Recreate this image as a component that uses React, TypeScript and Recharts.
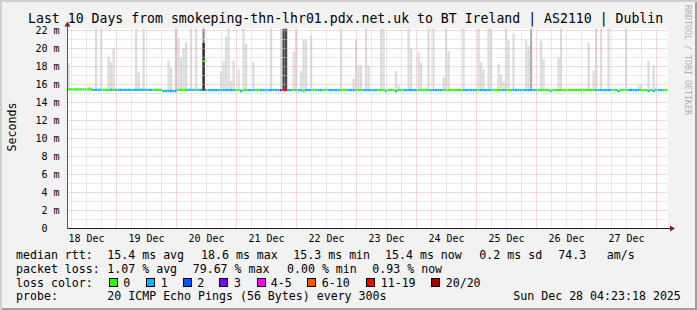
import React from 'react';
import {
  ComposedChart,
  Bar,
  Cell,
  XAxis,
  YAxis,
  ReferenceLine,
  ReferenceDot,
  CartesianGrid,
} from 'recharts';

// ---------- text ----------
const TITLE = 'Last 10 Days from smokeping-thn-lhr01.pdx.net.uk to BT Ireland | AS2110 | Dublin';
const Y_LABEL = 'Seconds';
const WATERMARK = 'RRDTOOL / TOBI OETIKER';
const dayLabels = ['18 Dec', '19 Dec', '20 Dec', '21 Dec', '22 Dec', '23 Dec', '24 Dec', '25 Dec', '26 Dec', '27 Dec'];
const yTicks = [0, 2, 4, 6, 8, 10, 12, 14, 16, 18, 20, 22];
const yMinor = [1, 3, 5, 7, 9, 11, 13, 15, 17, 19, 21];

const rttLabel = 'median rtt:';
const rttStats = ['15.4 ms avg', '18.6 ms max', '15.3 ms min', '15.4 ms now', '0.2 ms sd', '74.3', 'am/s'];
const lossLabel = 'packet loss:';
const lossStats = ['1.07 % avg', '79.67 % max', '0.00 % min', '0.93 % now'];
const colorLabel = 'loss color:';
const lossLabels = ['0', '1', '2', '3', '4-5', '6-10', '11-19', '20/20'];
const probeLabel = 'probe:';
const probeText = '20 ICMP Echo Pings (56 Bytes) every 300s';
const stamp = 'Sun Dec 28 04:23:18 2025';

// ---------- data (hours since graph start, 1 h steps) ----------
const START_HOUR_OF_DAY = 4 + 23 / 60 + 18 / 3600; // 04:23:18
const HOURS = 240;
const Y_MAX = 200 / 9; // 22.22 ms at the top of the canvas
const FULL = Y_MAX;
const SMOKE_BASE = 15.3;

// smoke spikes (hour index, top of smoke in ms)
const spikeHours = [
  0, 8, 9, 11, 13, 16, 17, 18, 27, 28, 30, 40, 41, 43, 44, 45, 46, 47, 49, 51, 54,
  61, 62, 63, 64, 65, 66, 68, 70, 71, 74, 81, 85, 90, 91, 93, 94, 95, 97, 103,
  109, 114, 115, 116, 117, 119, 120, 125, 126, 131, 132, 136, 137, 140, 141, 144, 146,
  150, 151, 152, 156, 158, 164, 165, 166, 168, 169, 172, 173, 174, 175, 176, 178,
  183, 184, 185, 189, 190, 196, 197, 208, 210, 211, 213, 216, 223, 225, 228, 229,
  232, 234, 235,
];
const spikeTops = [
  18.4, 15.8, 15.8, FULL, FULL, 19.1, 18.5, 20.0, FULL, 17.4, FULL, 18.7, 17.9, FULL, 21.2, 19.0, 20.1, 20.7, FULL, FULL, FULL,
  17.5, 18.6, 21.3, FULL, 16.4, 18.6, 17.7, FULL, 20.5, 18.5, FULL, FULL, 19.6, FULL, 17.5, 21.0, 20.9, 21.5, 15.7,
  FULL, 16.7, 20.9, 18.1, 18.1, FULL, 18.1, FULL, FULL, 17.5, 15.9, FULL, 20.0, 19.6, 18.4, FULL, FULL,
  16.8, FULL, 19.7, 15.6, FULL, FULL, 18.5, 17.7, FULL, FULL, 18.3, 17.1, 16.3, FULL, 20.9, 21.7,
  21.0, 20.3, FULL, 20.9, 18.8, 19.0, FULL, 20.6, 17.6, FULL, FULL, FULL, FULL, 15.7, 15.9, 16.0,
  18.6, 18.1, 15.7,
];
// dense (dark) smoke
const darkHours = [54, 86, 87];
const darkTops = [20.6, FULL, FULL];

// median rtt (run length: [hours, ms])
const medianRuns = [[10, 15.45], [28, 15.4], [6, 15.28], [10, 15.4], [1, 18.6], [185, 15.38]];
const medianDipHours = [69, 94, 127, 131, 193, 220, 232, 234];
const MEDIAN_DIP = 15.28;

// loss class per hour (run length: [hours, class index into lossLabels])
const lossRuns = [
  [10, 0], [4, 1], [3, 0], [1, 1], [1, 0], [15, 1],
  [4, 0], [6, 1], [4, 0], [3, 1], [1, 0], [2, 1], [1, 0],
  [12, 1], [2, 0], [1, 1], [2, 0], [3, 1], [2, 0], [8, 1],
  [1, 3], [2, 6], [2, 1], [2, 0], [2, 1], [1, 0], [3, 1], [2, 0], [2, 1], [2, 0], [5, 1], [3, 0], [3, 1], [3, 0], [3, 1],
  [3, 1], [3, 0], [1, 1], [3, 0], [1, 1], [2, 0], [6, 1], [5, 0], [5, 1], [8, 0], [6, 1], [1, 0], [5, 1], [4, 0], [2, 1], [2, 0],
  [10, 1], [5, 0], [1, 1], [17, 0], [7, 1], [2, 0], [1, 1], [3, 0], [5, 1], [3, 0], [1, 1], [1, 0], [1, 1], [1, 0], [2, 1], [2, 0],
];

// ---------- styles ----------
const FONT = "'DejaVu Sans Mono', monospace";
const lossColors = ['#26ff00', '#00b8ff', '#0059ff', '#7e00ff', '#ff00ff', '#ff5500', '#ff0000', '#a10000'];
const smokeShades: Record<number, string> = { 43: '#cbcbcb', 54: '#8a8a8a', 185: '#b0b0b0' };
const darkShades = ['#2a2a2a', '#474747', '#474747'];
const SMOKE = '#dcdcdc';
const MAJOR = '#eeb0b0';
const MINOR = '#d4d4d4';
const ARROW = '#801f1f';
const AXIS = '#1f1f1f';

// ---------- build table ----------
const lossByHour: number[] = lossRuns.flatMap(([n, c]) => Array(n).fill(c));
const medianByHour: number[] = medianRuns.flatMap(([n, v]) => Array(n).fill(v));
medianDipHours.forEach((h) => {
  medianByHour[h] = MEDIAN_DIP;
});

const rows = Array.from({ length: HOURS }, (_, i) => {
  const si = spikeHours.indexOf(i);
  const di = darkHours.indexOf(i);
  const m = medianByHour[i];
  return {
    h: i + 0.5,
    smoke: si >= 0 ? [SMOKE_BASE, spikeTops[si]] : null,
    smokeFill: smokeShades[i] ?? SMOKE,
    dark: di >= 0 ? [SMOKE_BASE, darkTops[di]] : null,
    darkFill: di >= 0 ? darkShades[di] : 'none',
    med: [m - 0.13, m + 0.13],
    medFill: lossColors[lossByHour[i]],
  };
});

const firstSix = 6 - (START_HOUR_OF_DAY % 6);
const gridX = Array.from({ length: 41 }, (_, k) => firstSix + 6 * k).filter((x) => x < HOURS);
const isMidnight = (x: number) => Math.round(START_HOUR_OF_DAY + x) % 24 === 0;
const noonTicks = dayLabels.map((_, i) => 12 - START_HOUR_OF_DAY + 24 * i);

// ---------- layout constants ----------
const rttX = [107.3, 201, 293.3, 385, 479.3, 558.3, 606.7];
const lossX = [107.3, 192.7, 287, 372.3];
const boxX = [109, 146, 182.7, 219.3, 256.7, 307.3, 365.7, 430.7];
const boxLabelX = [123.3, 160.7, 197.3, 234, 270.7, 321.7, 380.7, 445.7];
const ROW_TOP = [247.5, 261.5, 275.5, 288.9];

const txt = (left: number, top: number, s: string, key?: string | number) => (
  <div
    key={key}
    style={{
      position: 'absolute',
      left,
      top,
      fontFamily: FONT,
      fontSize: 11.6,
      lineHeight: '14px',
      whiteSpace: 'pre',
      color: '#000',
    }}
  >
    {s}
  </div>
);

const XArrow = (p: any) => (
  <polygon
    points={`${p.cx + 1.5},${p.cy} ${p.cx - 3.5},${p.cy - 3} ${p.cx - 3.5},${p.cy + 3}`}
    fill={ARROW}
  />
);
const YArrow = (p: any) => (
  <polygon
    points={`${p.cx},${p.cy} ${p.cx - 3},${p.cy + 5} ${p.cx + 3},${p.cy + 5}`}
    fill={ARROW}
  />
);

export default function App() {
  return (
    <div
      style={{
        position: 'absolute',
        left: 0,
        top: 0,
        width: 697,
        height: 310,
        background: '#f2f2f2',
        boxShadow: 'inset 2px 2px 0 #cfcfcf, inset -2px -2px 0 #9e9e9e',
        overflow: 'hidden',
      }}
    >
      <div style={{ position: 'absolute', left: 0, top: 0 }}>
        <ComposedChart
          width={697}
          height={310}
          data={rows}
          margin={{ top: 28.5, right: 29.53, bottom: 61.5, left: 27.47 }}
          barCategoryGap={0}
          barGap={0}
        >
          <CartesianGrid xAxisId="t" horizontal={false} vertical={false} fill="#ffffff" />
          <XAxis xAxisId="b" type="number" dataKey="h" domain={[0, HOURS]} allowDataOverflow hide height={0} />
          <XAxis xAxisId="d" type="number" dataKey="h" domain={[0, HOURS]} allowDataOverflow hide height={0} />
          <XAxis xAxisId="m" type="number" dataKey="h" domain={[0, HOURS]} allowDataOverflow hide height={0} />
          <XAxis
            xAxisId="t"
            type="number"
            dataKey="h"
            domain={[0, HOURS]}
            allowDataOverflow
            ticks={noonTicks}
            interval={0}
            tickFormatter={(v: number) => dayLabels[Math.round((v - noonTicks[0]) / 24)]}
            tick={{ fontFamily: FONT, fontSize: 10, fill: '#000' }}
            axisLine={false}
            tickLine={false}
            tickMargin={0}
            height={20}
          />
          <YAxis
            type="number"
            domain={[0, Y_MAX]}
            allowDataOverflow
            ticks={yTicks}
            interval={0}
            tickFormatter={(v: number) => (v === 0 ? '0\u00a0\u00a0' : `${v} m`)}
            tick={{ fontFamily: FONT, fontSize: 10, fill: '#000' }}
            axisLine={false}
            tickLine={false}
            width={40}
          />

          <Bar xAxisId="b" dataKey="smoke" barSize={2.5} isAnimationActive={false}>
            {rows.map((r, i) => (
              <Cell key={i} fill={r.smokeFill} />
            ))}
          </Bar>
          <Bar xAxisId="d" dataKey="dark" barSize={2.5} isAnimationActive={false}>
            {rows.map((r, i) => (
              <Cell key={i} fill={r.darkFill} />
            ))}
          </Bar>

          {yMinor.map((v) => (
            <ReferenceLine
              key={'ym' + v}
              xAxisId="t"
              y={v}
              stroke={MINOR}
              strokeWidth={1}
              strokeDasharray="1 1"
              ifOverflow="visible"
            />
          ))}
          {gridX.map((x) => (
            <ReferenceLine
              key={'x' + x}
              xAxisId="t"
              x={x}
              stroke={isMidnight(x) ? MAJOR : MINOR}
              strokeWidth={1}
              strokeDasharray="1 1"
              ifOverflow="visible"
            />
          ))}
          {yTicks
            .filter((v) => v > 0)
            .map((v) => (
              <ReferenceLine
                key={'yM' + v}
                xAxisId="t"
                y={v}
                stroke={MAJOR}
                strokeWidth={1}
                strokeDasharray="1 1"
                ifOverflow="visible"
              />
            ))}

          <Bar xAxisId="m" dataKey="med" barSize={2.5} isAnimationActive={false}>
            {rows.map((r, i) => (
              <Cell key={i} fill={r.medFill} />
            ))}
          </Bar>

          <ReferenceLine
            xAxisId="t"
            segment={[{ x: 0, y: 0 }, { x: 241.6, y: 0 }]}
            stroke={AXIS}
            ifOverflow="visible"
          />
          <ReferenceLine
            xAxisId="t"
            segment={[{ x: 0, y: 0 }, { x: 0, y: 22.85 }]}
            stroke="#555555"
            ifOverflow="visible"
          />
          <ReferenceDot xAxisId="t" x={242.4} y={0} ifOverflow="visible" shape={XArrow} />
          <ReferenceDot xAxisId="t" x={0} y={23.0} ifOverflow="visible" shape={YArrow} />
        </ComposedChart>
      </div>

      {/* title */}
      <div
        style={{
          position: 'absolute',
          left: 28,
          top: 11,
          fontFamily: FONT,
          fontSize: 13.2,
          lineHeight: '16px',
          whiteSpace: 'pre',
          color: '#000',
        }}
      >
        {TITLE}
      </div>

      {/* y label */}
      <div
        style={{
          position: 'absolute',
          left: 11.5 - 40,
          top: 127 - 7,
          width: 80,
          height: 14,
          textAlign: 'center',
          fontFamily: FONT,
          fontSize: 11.6,
          lineHeight: '14px',
          transform: 'rotate(-90deg)',
          color: '#000',
        }}
      >
        {Y_LABEL}
      </div>

      {/* watermark */}
      <div
        style={{
          position: 'absolute',
          left: 687.5 - 60,
          top: 60 - 5,
          width: 120,
          height: 10,
          textAlign: 'center',
          fontFamily: FONT,
          fontSize: 8.3,
          lineHeight: '10px',
          whiteSpace: 'pre',
          transform: 'rotate(90deg)',
          color: '#b0b0b0',
        }}
      >
        {WATERMARK}
      </div>

      {/* legend */}
      {txt(16, ROW_TOP[0], rttLabel)}
      {rttStats.map((s, i) => txt(rttX[i], ROW_TOP[0], s, 'r' + i))}
      {txt(16, ROW_TOP[1], lossLabel)}
      {lossStats.map((s, i) => txt(lossX[i], ROW_TOP[1], s, 'l' + i))}
      {txt(16, ROW_TOP[2], colorLabel)}
      {lossLabels.map((s, i) => (
        <React.Fragment key={'c' + i}>
          <div
            style={{
              position: 'absolute',
              left: boxX[i],
              top: 278,
              width: 9,
              height: 9,
              boxSizing: 'border-box',
              border: '1px solid #000',
              background: lossColors[i],
            }}
          />
          {txt(boxLabelX[i], ROW_TOP[2], s)}
        </React.Fragment>
      ))}
      {txt(16, ROW_TOP[3], probeLabel)}
      {txt(107.3, ROW_TOP[3], probeText)}
      {txt(513.3, ROW_TOP[3], stamp)}
    </div>
  );
}
